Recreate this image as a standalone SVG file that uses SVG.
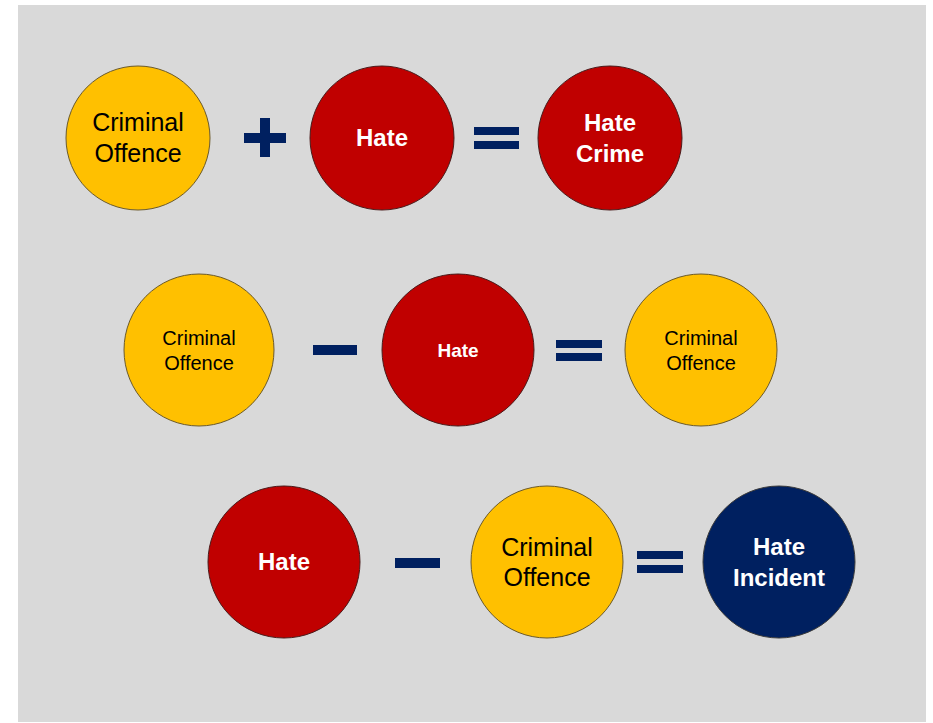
<svg xmlns="http://www.w3.org/2000/svg" width="933" height="723" viewBox="0 0 933 723">
<style>
.y{fill:#FFC000;stroke:#6b5a2a;stroke-width:1}
.r{fill:#C00000;stroke:#4a1a1a;stroke-width:1}
.n{fill:#002060;stroke:#3a3a3a;stroke-width:1}
.op{fill:#002060}
text{font-family:"Liberation Sans",Arial,sans-serif;text-anchor:middle}
.d{fill:#000}
.w{fill:#fff;font-weight:bold}
</style>
<rect x="0" y="0" width="933" height="723" fill="#fff"/>
<rect x="18" y="5" width="908" height="717" fill="#D9D9D9"/>
<g id="row1">
<g id="r1-criminal"><ellipse class="y" cx="138" cy="138" rx="72" ry="72"/><text class="d" x="138" y="131" font-size="25">Criminal</text><text class="d" x="138" y="162" font-size="25">Offence</text></g>
<g id="r1-plus"><rect class="op" x="244" y="133" width="42" height="10"/><rect class="op" x="260" y="118" width="10" height="39"/></g>
<g id="r1-hate"><ellipse class="r" cx="382" cy="138" rx="72" ry="72"/><text class="w" x="382" y="146" font-size="24">Hate</text></g>
<g id="r1-eq"><rect class="op" x="474" y="127" width="45" height="8"/><rect class="op" x="474" y="141" width="45" height="8"/></g>
<g id="r1-hatecrime"><ellipse class="r" cx="610" cy="138" rx="72" ry="72"/><text class="w" x="610" y="131" font-size="24">Hate</text><text class="w" x="610" y="162" font-size="24">Crime</text></g>
</g>
<g id="row2">
<g id="r2-criminal"><ellipse class="y" cx="199" cy="350" rx="75" ry="76"/><text class="d" x="199" y="345" font-size="20">Criminal</text><text class="d" x="199" y="370" font-size="20">Offence</text></g>
<g id="r2-minus"><rect class="op" x="313" y="345" width="44" height="10"/></g>
<g id="r2-hate"><ellipse class="r" cx="458" cy="350" rx="76" ry="76"/><text class="w" x="458" y="357" font-size="19">Hate</text></g>
<g id="r2-eq"><rect class="op" x="556" y="340" width="46" height="8"/><rect class="op" x="556" y="353" width="46" height="8"/></g>
<g id="r2-criminal2"><ellipse class="y" cx="701" cy="350" rx="76" ry="76"/><text class="d" x="701" y="345" font-size="20">Criminal</text><text class="d" x="701" y="370" font-size="20">Offence</text></g>
</g>
<g id="row3">
<g id="r3-hate"><ellipse class="r" cx="284" cy="562" rx="76" ry="76"/><text class="w" x="284" y="570" font-size="24">Hate</text></g>
<g id="r3-minus"><rect class="op" x="395" y="558" width="45" height="10"/></g>
<g id="r3-criminal"><ellipse class="y" cx="547" cy="562" rx="76" ry="76"/><text class="d" x="547" y="556" font-size="25">Criminal</text><text class="d" x="547" y="586" font-size="25">Offence</text></g>
<g id="r3-eq"><rect class="op" x="637" y="551" width="46" height="8"/><rect class="op" x="637" y="565" width="46" height="8"/></g>
<g id="r3-incident"><ellipse class="n" cx="779" cy="562" rx="76" ry="76"/><text class="w" x="779" y="555" font-size="24">Hate</text><text class="w" x="779" y="586" font-size="24">Incident</text></g>
</g>
<g id="connectors"/>
</svg>
